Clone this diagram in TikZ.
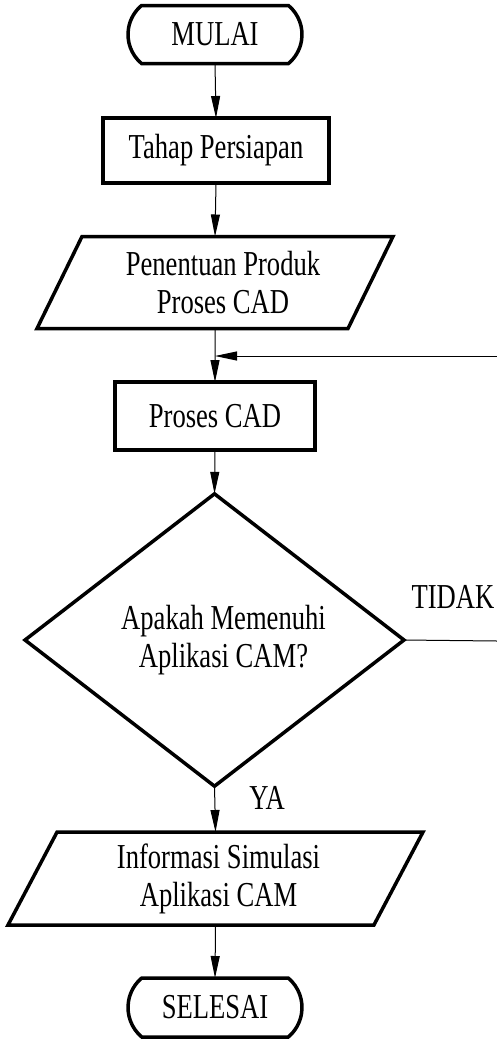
\documentclass[tikz,border=0pt]{standalone}
\usepackage{fontspec}
\setmainfont{Liberation Serif}[FakeStretch=0.76]
\usetikzlibrary{shapes.geometric,shapes.misc,arrows.meta}
\begin{document}
\begin{tikzpicture}[x=1pt,y=-1pt,
  every node/.style={font=\fontsize{35}{38}\selectfont, inner sep=0pt, outer sep=0pt},
  shapeline/.style={draw=black, line width=3.5pt},
  term/.style={shapeline, rounded rectangle, rounded rectangle arc length=100, minimum width=174pt, minimum height=58pt},
  procbox/.style={shapeline, rectangle},
  iobox/.style={shapeline, trapezium, trapezium stretches body, align=center},
  decbox/.style={shapeline, diamond, align=center},
  arr/.style={line width=1pt, -{Triangle[length=22pt,width=9pt]}},
  conn/.style={line width=1pt}
]
\useasboundingbox (0,0) rectangle (497,1039);
\node[term] (mulai) at (215,34.5) {MULAI};
\node[procbox, minimum width=226pt, minimum height=65pt] (tahap) at (216,150.5) {Tahap Persiapan};
\node[iobox, trapezium left angle=54.3, trapezium right angle=125.7, minimum width=356pt, minimum height=92pt] (prod) at (215,282.5) {\hspace*{16pt}Penentuan Produk\\\hspace*{16pt}Proses CAD};
\node[procbox, minimum width=200pt, minimum height=68pt] (cad) at (215,416) {Proses CAD};
\node[decbox, minimum width=379pt, minimum height=274pt] (dec) at (214.5,640) {\hspace*{18pt}Apakah Memenuhi\\\hspace*{18pt}Aplikasi CAM?};
\node[iobox, trapezium left angle=55, trapezium right angle=125, minimum width=415pt, minimum height=93pt] (info) at (215.5,878.5) {\hspace*{6pt}Informasi Simulasi\\\hspace*{6pt}Aplikasi CAM};
\node[term, minimum height=59pt] (selesai) at (215,1007.5) {SELESAI};
\node (tidak) at (453,597) {TIDAK};
\node (ya) at (267,798) {YA};
\coordinate (rdec) at (497,641);
\coordinate (rtop) at (497,356);
\draw[arr] (mulai.south) -- (tahap.north);
\draw[arr] (tahap.south) -- (prod.north);
\draw[arr] (prod.south) -- (cad.north);
\draw[arr] (cad.south) -- (dec.north);
\draw[arr] (dec.south) -- (info.north);
\draw[arr] (info.south) -- (selesai.north);
\draw[conn] (dec.east) -- (rdec);
\draw[arr] (rtop) -- (rtop -| cad.north);
\end{tikzpicture}
\end{document}
